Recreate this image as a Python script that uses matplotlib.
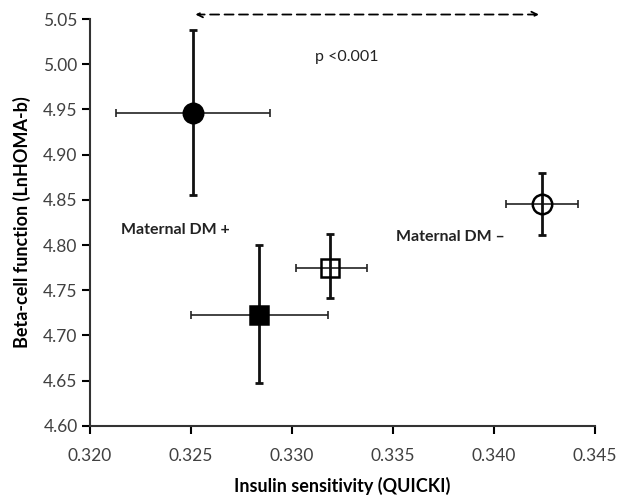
import matplotlib
matplotlib.use('Agg')
import matplotlib.pyplot as plt

plt.rcParams['font.family'] = ['Lato', 'DejaVu Sans']

# group means and error limits
groups = ['DM+ a', 'DM+ b', 'DM- b', 'DM- a']
quicki = [0.32508, 0.32839, 0.33190, 0.34237]
quicki_lo = [0.3213, 0.3250, 0.3302, 0.3406]
quicki_hi = [0.3289, 0.33178, 0.33371, 0.34419]
homa = [4.946, 4.723, 4.775, 4.845]
homa_lo = [4.855, 4.647, 4.741, 4.811]
homa_hi = [5.038, 4.800, 4.812, 4.880]
markers = ['o', 's', 's', 'o']
filled = [True, True, False, False]

xticks = [0.320, 0.325, 0.330, 0.335, 0.340, 0.345]
yticks = [4.60, 4.65, 4.70, 4.75, 4.80, 4.85, 4.90, 4.95, 5.00, 5.05]

fig = plt.figure(figsize=(6.17, 5.01), dpi=100)
ax = fig.add_axes([0.146, 0.150, 0.818, 0.812])

for i in range(len(groups)):
    x, y = quicki[i], homa[i]
    ax.errorbar(x, y, xerr=[[x - quicki_lo[i]], [quicki_hi[i] - x]],
                fmt='none', ecolor='#222222', elinewidth=1.2, capsize=3, capthick=1.2)
    ax.errorbar(x, y, yerr=[[y - homa_lo[i]], [homa_hi[i] - y]],
                fmt='none', ecolor='#111111', elinewidth=2, capsize=3, capthick=2)
    ms = 14 if markers[i] == 'o' else 13
    ax.plot(x, y, marker=markers[i], markersize=ms, linestyle='none',
            markerfacecolor='black' if filled[i] else 'none',
            markeredgecolor='black', markeredgewidth=1.8)

# dashed double arrow across the top
ax.annotate('', xy=(quicki[0], 5.055), xytext=(quicki[3], 5.055),
            arrowprops=dict(arrowstyle='<->', linestyle=(0, (5, 3)), color='black', lw=1.3),
            annotation_clip=False)
ax.text(0.3327, 5.008, 'p <0.001', fontsize=11.5, color='#222222', ha='center', va='center')
ax.text(0.32424, 4.817, 'Maternal DM +', fontsize=11.5, fontweight='bold', color='#222222',
        ha='center', va='center')
ax.text(0.33787, 4.809, 'Maternal DM \u2013', fontsize=11.5, fontweight='bold', color='#222222',
        ha='center', va='center')

ax.set_xlim(0.320, 0.345)
ax.set_ylim(4.60, 5.05)
ax.set_xticks(xticks)
ax.set_xticklabels([f'{t:.3f}' for t in xticks])
ax.set_yticks(yticks)
ax.set_yticklabels([f'{t:.2f}' for t in yticks])
ax.tick_params(axis='both', direction='out', length=6, width=1.5, labelsize=12.5,
               labelcolor='#404040')
ax.tick_params(axis='x', pad=10)
ax.tick_params(axis='y', pad=3)
for side in ['top', 'right']:
    ax.spines[side].set_visible(False)
for side in ['left', 'bottom']:
    ax.spines[side].set_linewidth(1.5)
    ax.spines[side].set_color('#333333')

ax.set_xlabel('Insulin sensitivity (QUICKI)', fontsize=13, fontweight='bold', labelpad=9)
ax.set_ylabel('Beta-cell function (LnHOMA-b)', fontsize=13, fontweight='bold', labelpad=9)

fig.savefig('out.png', dpi=100)
